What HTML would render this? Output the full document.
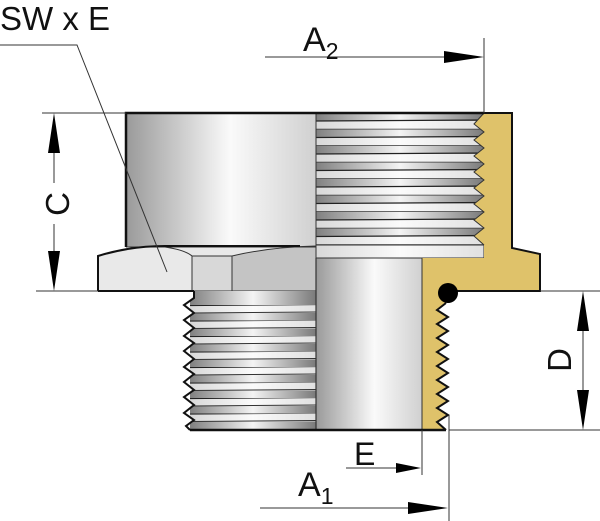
<!DOCTYPE html>
<html><head><meta charset="utf-8"><style>
html,body{margin:0;padding:0;background:#fff;width:600px;height:521px;overflow:hidden}
svg{display:block}
text{font-family:"Liberation Sans",sans-serif;fill:#111}
</style></head><body>
<svg width="600" height="521" viewBox="0 0 600 521" xmlns="http://www.w3.org/2000/svg">
<defs>
<linearGradient id="cyl" x1="0" x2="1" y1="0" y2="0">
<stop offset="0" stop-color="#9a9a9a"/><stop offset="0.55" stop-color="#fafafa"/><stop offset="1" stop-color="#d0d0d0"/>
</linearGradient>
<linearGradient id="dk" x1="0" x2="1" y1="0" y2="0">
<stop offset="0" stop-color="#808080"/><stop offset="0.5" stop-color="#f4f4f4"/><stop offset="1" stop-color="#7a7a7a"/>
</linearGradient>
<linearGradient id="lt" x1="0" x2="1" y1="0" y2="0">
<stop offset="0" stop-color="#d8d8d8"/><stop offset="0.5" stop-color="#fbfbfb"/><stop offset="1" stop-color="#e0e0e0"/>
</linearGradient>
<pattern id="thr1" x="316" y="113" width="168" height="16.5" patternUnits="userSpaceOnUse">
<rect x="0" y="0" width="168" height="8" fill="url(#dk)"/>
<rect x="0" y="8" width="168" height="8.5" fill="url(#lt)"/>
<line x1="0" y1="8" x2="168" y2="7" stroke="#222" stroke-width="1.2"/>
<line x1="0" y1="16.2" x2="168" y2="16.2" stroke="#333" stroke-width="1"/>
</pattern>
<pattern id="thr2" x="190" y="305" width="126" height="15.5" patternUnits="userSpaceOnUse">
<rect x="0" y="0" width="126" height="8" fill="url(#lt)"/>
<rect x="0" y="8" width="126" height="7.5" fill="url(#dk)"/>
<line x1="0" y1="0.5" x2="126" y2="-0.5" stroke="#222" stroke-width="1.2"/>
<line x1="0" y1="8" x2="126" y2="7" stroke="#333" stroke-width="1"/>
</pattern>
</defs>

<rect x="126" y="113" width="190" height="134" fill="url(#cyl)"/>
<rect x="316" y="113" width="168" height="132" fill="url(#thr1)"/>
<rect x="316" y="245" width="168" height="13" fill="url(#lt)" stroke="#333" stroke-width="1"/>
<path d="M98,291 L98,256 Q130,246 165,246 L300,246 L316,246 L316,291 Z" fill="#e9e9e9"/>
<path d="M192,256 L232,256 L232,291 L192,291 Z" fill="#d8d8d8" stroke="#333" stroke-width="1"/>
<path d="M232,256 Q270,247 316,246 L316,291 L232,291 Z" fill="#c4c4c4" stroke="#333" stroke-width="1"/>
<path d="M126,247 L316,247" stroke="#333" stroke-width="1"/>
<path d="M165,247 Q185,250 192,256" stroke="#333" stroke-width="1" fill="none"/>
<path d="M98,291 L98,256 Q130,246 165,246 L300,246" fill="none" stroke="#111" stroke-width="2"/>
<rect x="316" y="258" width="106" height="172" fill="url(#cyl)" stroke="#333" stroke-width="1"/>
<rect x="190" y="291" width="126" height="14" fill="url(#dk)"/>
<rect x="190" y="305" width="126" height="125" fill="url(#thr2)"/>
<polygon points="160,291 194,291 194,298 184,305 194,313 184,320 194,328 184,336 194,343 184,351 194,359 184,367 194,374 184,382 194,390 184,397 194,405 184,413 194,420 186,426 190,430 160,430" fill="#fff"/>
<polyline points="194,291 194,298 184,305 194,313 184,320 194,328 184,336 194,343 184,351 194,359 184,367 194,374 184,382 194,390 184,397 194,405 184,413 194,420 186,426 190,430" fill="none" stroke="#111" stroke-width="2"/>
<line x1="316" y1="258" x2="316" y2="430" stroke="#333" stroke-width="1.2"/>
<line x1="316" y1="113" x2="316" y2="291" stroke="#333" stroke-width="1"/>

<polygon points="484,113 512,113 512,248 540,254 540,291 455,291 446,303 437,310 448,317 437,324 448,331 437,338 448,345 437,352 448,359 437,366 448,373 437,380 448,387 437,394 448,401 437,408 448,415 437,422 446,430 422,430 422,258 484,258 484,245 474,236 484,228 474,220 484,212 474,204 484,196 474,188 484,180 474,172 484,164 474,156 484,148 474,140 484,132 474,124" fill="#dfc26a"/>
<polyline points="484,113 512,113 512,248 540,254 540,291 455,291" fill="none" stroke="#111" stroke-width="2"/>
<polyline points="446,303 437,310 448,317 437,324 448,331 437,338 448,345 437,352 448,359 437,366 448,373 437,380 448,387 437,394 448,401 437,408 448,415 437,422 446,430" fill="none" stroke="#111" stroke-width="2"/>
<polyline points="484,245 474,236 484,228 474,220 484,212 474,204 484,196 474,188 484,180 474,172 484,164 474,156 484,148 474,140 484,132 474,124 484,113" fill="none" stroke="#333" stroke-width="1"/>
<line x1="422" y1="258" x2="422" y2="430" stroke="#333" stroke-width="1"/>
<circle cx="448" cy="293" r="10" fill="#000"/>

<polyline points="126,247 126,113 484,113" fill="none" stroke="#111" stroke-width="2.5"/>
<line x1="98" y1="291" x2="194" y2="291" stroke="#111" stroke-width="2"/>
<line x1="190" y1="430" x2="446" y2="430" stroke="#111" stroke-width="2.5"/>

<g stroke="#333" stroke-width="1" fill="none">
<line x1="42" y1="113" x2="126" y2="113"/>
<line x1="36" y1="291" x2="98" y2="291"/>
<line x1="54" y1="150" x2="54" y2="183"/>
<line x1="54" y1="224" x2="54" y2="255"/>
<polyline points="0,45 77,45 167,272"/>
<line x1="265" y1="57" x2="450" y2="57"/>
<line x1="484" y1="38" x2="484" y2="113"/>
<line x1="540" y1="291" x2="600" y2="291"/>
<line x1="449" y1="430" x2="600" y2="430"/>
<line x1="583" y1="325" x2="583" y2="400"/>
<line x1="346" y1="468" x2="400" y2="468"/>
<line x1="422" y1="430" x2="422" y2="475"/>
<line x1="449" y1="415" x2="449" y2="521"/>
<line x1="260" y1="508" x2="410" y2="508"/>
</g>
<g fill="#000">
<polygon points="54,113 48,153 60,153"/>
<polygon points="54,291 48,251 60,251"/>
<polygon points="484,57 444,51 444,63"/>
<polygon points="583,291 577,331 589,331"/>
<polygon points="583,430 577,390 589,390"/>
<polygon points="421,468 396,463 396,473"/>
<polygon points="448,508 408,502 408,514"/>
</g>

<text x="0" y="30" font-size="33">SW x E</text>
<text x="303" y="51" font-size="34">A<tspan font-size="23" dy="8">2</tspan></text>
<text x="298" y="496" font-size="34">A<tspan font-size="23" dy="8">1</tspan></text>
<text x="354" y="465" font-size="32">E</text>
<text transform="translate(69,204) rotate(-90)" font-size="33" text-anchor="middle">C</text>
<text transform="translate(571,360) rotate(-90)" font-size="33" text-anchor="middle">D</text>
</svg>
</body></html>
